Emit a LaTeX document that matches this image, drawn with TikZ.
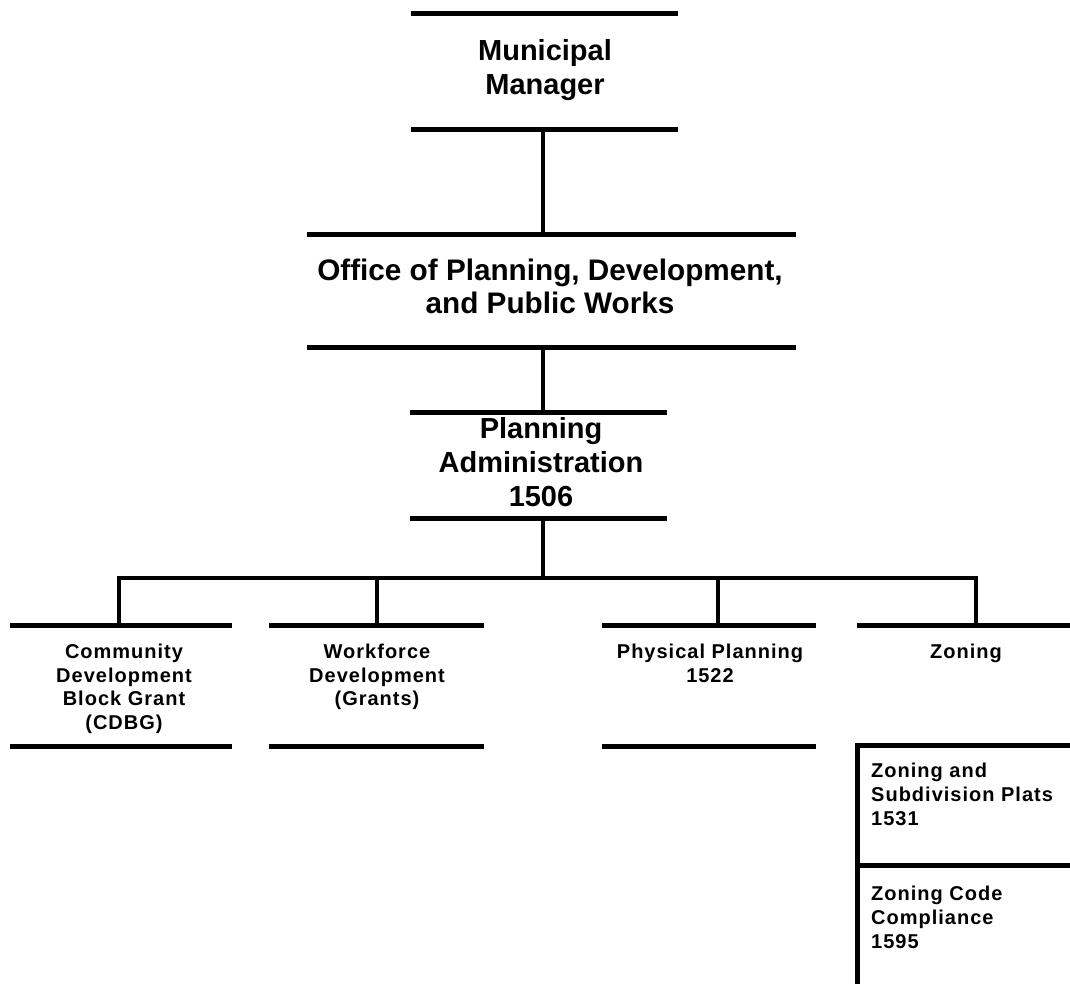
\documentclass[tikz,border=0pt]{standalone}
\usepackage{fontspec}
\setmainfont{Liberation Sans}
\newfontfamily\lowfont[LetterSpace=5]{Liberation Sans}
\begin{document}
\begin{tikzpicture}[x=1pt,y=-1pt,
  unit/.style={rectangle,draw=none,inner sep=0pt,outer sep=0pt},
  bar/.style={line width=5pt},
  conn/.style={line width=4.5pt,line join=miter},
  bigtext/.style={anchor=north,inner sep=0pt,align=center,font=\bfseries\fontsize{29}{34}\selectfont},
  lowtext/.style={anchor=north,inner sep=0pt,align=center,font=\lowfont\bfseries\fontsize{20}{23.5}\selectfont},
  lefttext/.style={anchor=north west,inner sep=0pt,align=left,font=\lowfont\bfseries\fontsize{20}{24}\selectfont}]
\path[use as bounding box,fill=white] (0,0) rectangle (1070,983);
% boxes (regions between top and bottom bars)
\node[unit,minimum width=267,minimum height=116] (mm) at (544.5,71) {};
\node[unit,minimum width=489,minimum height=113] (office) at (551.5,290.5) {};
\node[unit,minimum width=257,minimum height=106] (pa) at (538.5,412+53) {};
\node[unit,minimum width=222,minimum height=121] (cdbg) at (121,686) {};
\node[unit,minimum width=215,minimum height=121] (wf) at (376.5,686) {};
\node[unit,minimum width=214,minimum height=121] (pp) at (709,686) {};
\node[unit,minimum width=213,minimum height=120] (zon) at (963.5,685) {};
\node[unit,minimum width=213,minimum height=240] (zbox) at (963.5,865) {};
% bars
\foreach \n in {mm,office,pa,cdbg,wf,pp}{
  \draw[bar] (\n.north west) -- (\n.north east);
  \draw[bar] (\n.south west) -- (\n.south east);
}
\draw[bar] (zon.north west) -- (zon.north east);
\draw[bar] (zbox.north east) -- (zbox.north west) -- (zbox.south west);
\draw[bar] (zbox.west) -- (zbox.east);
% texts
\node[bigtext] (mmt) at (545,39) {Municipal\\Manager};
\node[bigtext,font=\bfseries\fontsize{29.7}{33}\selectfont] (officet) at (550,259) {Office of Planning, Development,\\and Public Works};
\node[bigtext] (pat) at (541,417) {Planning\\Administration\\1506};
\node[lowtext] (cdbgt) at (124,644) {Community\\Development\\Block Grant\\(CDBG)};
\node[lowtext] (wft) at (377,644) {Workforce\\Development\\(Grants)};
\node[lowtext] (ppt) at (710,644) {Physical Planning\\1522};
\node[lowtext] (zont) at (966,644) {Zoning};
\node[lefttext] (z1t) at (871,763) {Zoning and\\Subdivision Plats\\1531};
\node[lefttext] (z2t) at (871,886) {Zoning Code\\Compliance\\1595};
% connectors
\coordinate (spine) at (543,0);
\coordinate (bus) at (0,578);
\coordinate (d1) at (119,0);
\coordinate (d2) at (377,0);
\coordinate (d3) at (718,0);
\coordinate (d4) at (976,0);
\draw[conn] (spine |- mm.south) -- (spine |- office.north);
\draw[conn] (spine |- office.south) -- (spine |- pa.north);
\draw[conn] (spine |- pa.south) -- (spine |- bus);
\draw[conn] (d1 |- cdbg.north) -- (d1 |- bus) -- (d4 |- bus) -- (d4 |- zon.north);
\draw[conn] (d2 |- bus) -- (d2 |- wf.north);
\draw[conn] (d3 |- bus) -- (d3 |- pp.north);
\end{tikzpicture}
\end{document}
